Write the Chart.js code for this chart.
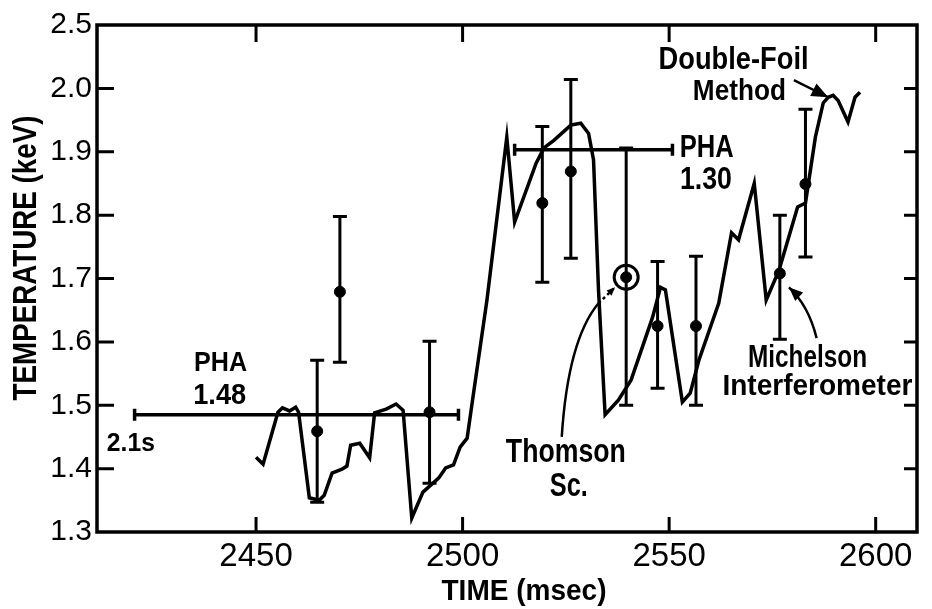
<!DOCTYPE html>
<html>
<head>
<meta charset="utf-8">
<script src="https://cdn.jsdelivr.net/npm/chart.js@4.4.1/dist/chart.umd.min.js"></script>
<style>
  html, body { margin: 0; padding: 0; background: #fff; }
  #wrap { width: 932px; height: 609px; }
</style>
</head>
<body>
<div id="wrap"><canvas id="chart" width="932" height="609"></canvas></div>
<script>
// Double-foil / Michelson trace (continuous line)
const curveTime = [2450.0, 2451.7, 2455.3, 2456.4, 2458.1, 2459.6, 2460.3, 2462.9, 2465.3, 2466.5,
  2468.4, 2470.8, 2472.0, 2472.9, 2475.1, 2477.5, 2478.7, 2481.5, 2483.9, 2485.6,
  2487.7, 2490.4, 2494.2, 2495.9, 2497.8, 2499.4, 2501.1, 2502.3, 2505.9, 2510.7,
  2512.6, 2517.8, 2519.7, 2522.1, 2526.2, 2528.6, 2530.5, 2531.7, 2532.9, 2534.5,
  2537.7, 2540.8, 2546.0, 2547.9, 2549.1, 2553.2, 2555.1, 2557.2, 2562.0, 2565.1,
  2566.8, 2570.6, 2573.5, 2576.6, 2581.1, 2583.0, 2584.2, 2585.4, 2587.3, 2588.5,
  2589.7, 2590.9, 2593.3, 2595.0, 2596.2];
const curveTemp = [1.418, 1.407, 1.489, 1.496, 1.491, 1.497, 1.489, 1.354, 1.350, 1.358,
  1.393, 1.399, 1.404, 1.437, 1.440, 1.417, 1.488, 1.494, 1.502, 1.492,
  1.322, 1.363, 1.385, 1.401, 1.406, 1.434, 1.448, 1.503, 1.666, 1.923,
  1.789, 1.882, 1.906, 1.918, 1.942, 1.945, 1.929, 1.887, 1.682, 1.485,
  1.508, 1.540, 1.639, 1.686, 1.682, 1.505, 1.519, 1.571, 1.661, 1.772,
  1.761, 1.850, 1.666, 1.713, 1.813, 1.819, 1.871, 1.923, 1.977, 1.986,
  1.989, 1.981, 1.947, 1.986, 1.994];

// points with error bars
const pointTime = [2464.8, 2470.3, 2492.0, 2519.3, 2526.2, 2539.6, 2547.2, 2556.5, 2576.8, 2583.0];
const pointTemp = [1.459, 1.679, 1.489, 1.819, 1.869, 1.702, 1.625, 1.625, 1.708, 1.849];
const pointLow  = [1.347, 1.568, 1.377, 1.694, 1.732, 1.500, 1.527, 1.500, 1.604, 1.734];
const pointHigh = [1.571, 1.798, 1.601, 1.940, 2.014, 1.906, 1.727, 1.735, 1.800, 1.967];

// Thomson scattering point (ringed)
const thomsonTime = [2539.6];
const thomsonTemp = [1.702];

// PHA time-averaged bars
const phaStart = [2420.6, 2512.6];
const phaEnd = [2499.0, 2550.8];
const phaTemp = [1.485, 1.903];

const xTicks = [2450, 2500, 2550, 2600];
const yTicks = [1.3, 1.4, 1.5, 1.6, 1.7, 1.8, 1.9, 2.0, 2.1];
const yTickLabels = ["1.3", "1.4", "1.5", "1.6", "1.7", "1.8", "1.9", "2.0", "2.5"];

const FONT = "'Liberation Sans', Arial, sans-serif";

// text notes: [text, time, temp, font size, max width]
const notes = [
  ["PHA", 2441.4, 1.567, 28, 53],
  ["1.48", 2441.2, 1.515, 30, 53],
  ["2.1s", 2419.7, 1.439, 26, 48],
  ["PHA", 2559.1, 1.906, 32, 54],
  ["1.30", 2558.9, 1.855, 32, 52],
  ["Double-Foil", 2565.6, 2.044, 32, 150],
  ["Method", 2567.0, 1.994, 29, 93],
  ["Thomson", 2525.0, 1.425, 34, 120],
  ["Sc.", 2525.7, 1.371, 33, 38],
  ["Michelson", 2583.5, 1.574, 31, 119],
  ["Interferometer", 2585.9, 1.530, 30, 190]
];

function arrowHead(ctx, x0, y0, x1, y1, size) {
  const a = Math.atan2(y1 - y0, x1 - x0);
  ctx.beginPath();
  ctx.moveTo(x1, y1);
  ctx.lineTo(x1 - size * Math.cos(a - 0.4), y1 - size * Math.sin(a - 0.4));
  ctx.lineTo(x1 - size * Math.cos(a + 0.4), y1 - size * Math.sin(a + 0.4));
  ctx.closePath();
  ctx.fill();
}

const extras = {
  id: "extras",
  afterDatasetsDraw(chart) {
    const ctx = chart.ctx;
    const x = chart.scales.x, y = chart.scales.y;
    const area = chart.chartArea;
    ctx.save();
    ctx.strokeStyle = "#000";
    ctx.fillStyle = "#000";
    ctx.lineWidth = 3;
    ctx.lineCap = "butt";

    // error bars
    pointTime.forEach((t, i) => {
      const px = x.getPixelForValue(t);
      const lo = y.getPixelForValue(pointLow[i]);
      const hi = y.getPixelForValue(pointHigh[i]);
      ctx.beginPath();
      ctx.moveTo(px, lo); ctx.lineTo(px, hi);
      ctx.moveTo(px - 7, lo); ctx.lineTo(px + 7, lo);
      ctx.moveTo(px - 7, hi); ctx.lineTo(px + 7, hi);
      ctx.stroke();
    });

    // PHA bars
    ctx.lineWidth = 3.5;
    phaStart.forEach((t, i) => {
      const x0 = x.getPixelForValue(t);
      const x1 = x.getPixelForValue(phaEnd[i]);
      const py = y.getPixelForValue(phaTemp[i]);
      ctx.beginPath();
      ctx.moveTo(x0, py); ctx.lineTo(x1, py);
      ctx.moveTo(x0, py - 6); ctx.lineTo(x0, py + 6);
      ctx.moveTo(x1, py - 6); ctx.lineTo(x1, py + 6);
      ctx.stroke();
    });

    // frame
    ctx.lineWidth = 3.5;
    ctx.strokeRect(area.left, area.top, area.right - area.left, area.bottom - area.top);

    // inward ticks
    ctx.lineWidth = 3;
    ctx.beginPath();
    xTicks.forEach(v => {
      const px = x.getPixelForValue(v);
      ctx.moveTo(px, area.bottom); ctx.lineTo(px, area.bottom - 15);
      ctx.moveTo(px, area.top); ctx.lineTo(px, area.top + 17);
    });
    yTicks.forEach(v => {
      if (v <= 1.3 || v >= 2.1) return;
      const py = y.getPixelForValue(v);
      ctx.moveTo(area.left, py); ctx.lineTo(area.left + 17, py);
      ctx.moveTo(area.right, py); ctx.lineTo(area.right - 13, py);
    });
    ctx.stroke();

    // annotation arrows
    const P = (t, v) => [x.getPixelForValue(t), y.getPixelForValue(v)];
    ctx.lineWidth = 2.5;
    // Double-Foil
    let a = P(2580.2, 2.013), b = P(2588.5, 1.986);
    ctx.beginPath(); ctx.moveTo(a[0], a[1]); ctx.lineTo(b[0], b[1]); ctx.stroke();
    arrowHead(ctx, a[0], a[1], b[0], b[1], 18);
    // Michelson
    a = P(2585.7, 1.606); let c = P(2583.7, 1.658); b = P(2579.0, 1.686);
    ctx.beginPath(); ctx.moveTo(a[0], a[1]); ctx.quadraticCurveTo(c[0], c[1], b[0], b[1]); ctx.stroke();
    arrowHead(ctx, c[0], c[1], b[0], b[1], 15);
    // Thomson
    a = P(2524.0, 1.450); c = P(2525.5, 1.603); b = P(2532.9, 1.661);
    ctx.beginPath(); ctx.moveTo(a[0], a[1]); ctx.quadraticCurveTo(c[0], c[1], b[0], b[1]); ctx.stroke();
    const d = P(2536.9, 1.686);
    ctx.setLineDash([3, 3]);
    ctx.beginPath(); ctx.moveTo(b[0], b[1]); ctx.lineTo(d[0], d[1]); ctx.stroke();
    ctx.setLineDash([]);
    arrowHead(ctx, b[0], b[1], d[0], d[1], 9);

    // text notes
    ctx.textAlign = "center";
    ctx.textBaseline = "middle";
    notes.forEach(n => {
      const p = P(n[1], n[2]);
      ctx.font = "bold " + n[3] + "px " + FONT;
      ctx.fillText(n[0], p[0], p[1], n[4]);
    });

    // axis titles
    ctx.font = "bold 30px " + FONT;
    ctx.fillText("TIME (msec)", (area.left + area.right) / 2 + 17, 592, 165);
    ctx.save();
    ctx.translate(27, 258);
    ctx.rotate(-Math.PI / 2);
    ctx.font = "bold 34px " + FONT;
    ctx.fillText("TEMPERATURE (keV)", 0, 0, 285);
    ctx.restore();

    ctx.restore();
  }
};

new Chart(document.getElementById("chart"), {
  type: "scatter",
  data: {
    datasets: [
      {
        type: "line",
        data: curveTime.map((t, i) => ({ x: t, y: curveTemp[i] })),
        borderColor: "#000",
        borderWidth: 3.5,
        pointRadius: 0,
        tension: 0,
        fill: false,
      },
      {
        data: pointTime.map((t, i) => ({ x: t, y: pointTemp[i] })),
        backgroundColor: "#000",
        borderColor: "#000",
        pointRadius: 5.5,
      },
      {
        data: thomsonTime.map((t, i) => ({ x: t, y: thomsonTemp[i] })),
        backgroundColor: "rgba(0,0,0,0)",
        borderColor: "#000",
        borderWidth: 3,
        pointRadius: 12,
      },
    ],
  },
  options: {
    responsive: false,
    animation: false,
    layout: { padding: { top: 25, right: 4, left: 0, bottom: 0 } },
    plugins: { legend: { display: false }, tooltip: { enabled: false } },
    scales: {
      x: {
        type: "linear",
        min: 2411.5,
        max: 2610,
        grid: { display: false, drawTicks: false },
        border: { display: false },
        afterBuildTicks: s => { s.ticks = xTicks.map(v => ({ value: v })); },
        afterFit: s => { s.height = 77; },
        ticks: {
          font: { family: FONT, size: 33 },
          color: "#000",
          padding: 5,
          maxRotation: 0,
          autoSkip: false,
          callback: v => String(v),
        },
      },
      y: {
        type: "linear",
        min: 1.3,
        max: 2.1,
        grid: { display: false, drawTicks: false },
        border: { display: false },
        afterBuildTicks: s => { s.ticks = yTicks.map(v => ({ value: v })); },
        afterFit: s => { s.width = 97; },
        ticks: {
          font: { family: FONT, size: 30 },
          color: "#000",
          padding: 5,
          autoSkip: false,
          callback: (v, i) => yTickLabels[i],
        },
      },
    },
  },
  plugins: [extras],
});
</script>
</body>
</html>
